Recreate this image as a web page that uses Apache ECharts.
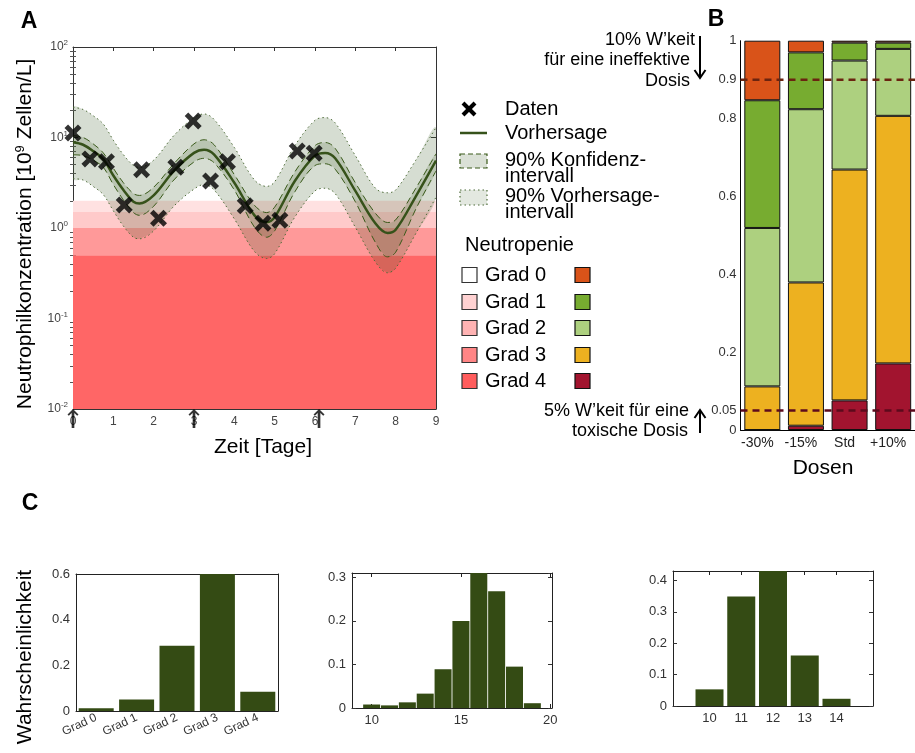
<!DOCTYPE html>
<html>
<head>
<meta charset="utf-8">
<title>Neutropenie</title>
<script src="https://cdn.jsdelivr.net/npm/echarts@6/dist/echarts.min.js"></script>
<style>
    html, body { margin: 0; padding: 0; background: #fff; }
    #main { width: 915px; height: 753px; }
</style>
</head>
<body>
<div id="main"></div>
<script>
// ---- Panel A: neutrophil time course ----
var days      = [0, 0.25, 0.5, 0.75, 1, 1.25, 1.5, 1.65, 2, 2.5, 3, 3.25, 3.5, 4, 4.5, 4.8, 5, 5.5, 6, 6.25, 6.5, 7, 7.5, 7.8, 8, 8.5, 9];
var median    = [8.85, 8.32, 7.08, 5.78, 3.80, 2.63, 1.95, 1.86, 2.29, 4.27, 6.76, 7.33, 6.46, 3.16, 1.38, 1.16, 1.32, 3.31, 6.31, 6.76, 5.89, 2.57, 1.12, 0.88, 0.955, 2.24, 5.55];
var ciUpper   = [10.5, 10.0, 8.5, 6.76, 4.57, 3.16, 2.40, 2.29, 2.82, 5.13, 8.5, 9.44, 8.3, 3.89, 1.78, 1.48, 1.70, 4.17, 8.13, 8.81, 7.59, 3.16, 1.45, 1.15, 1.23, 2.75, 6.61];
var ciLower   = [6.46, 6.3, 5.62, 4.68, 3.02, 2.04, 1.48, 1.38, 1.74, 3.39, 5.37, 5.89, 5.25, 2.63, 1.02, 0.79, 0.93, 2.51, 4.90, 5.13, 4.47, 1.95, 0.69, 0.48, 0.54, 1.62, 4.27];
var piUpper   = [21.6, 20.4, 17.4, 14.1, 9.33, 6.46, 4.90, 4.68, 5.62, 10.5, 16.6, 18.2, 15.8, 7.76, 3.39, 2.88, 3.24, 8.13, 15.5, 16.6, 14.5, 6.31, 2.75, 2.45, 2.63, 5.62, 12.9];
var piLower   = [3.51, 3.39, 2.88, 2.34, 1.55, 1.05, 0.79, 0.76, 0.93, 1.74, 2.69, 3.02, 2.63, 1.26, 0.55, 0.46, 0.52, 1.32, 2.57, 2.75, 2.40, 1.02, 0.42, 0.32, 0.36, 0.87, 2.19];
var obsDays   = [0, 0.42, 0.83, 1.27, 1.7, 2.12, 2.55, 2.98, 3.41, 3.83, 4.27, 4.71, 5.13, 5.56, 5.98];
var obsValues = [11.2, 5.8, 5.4, 1.8, 4.4, 1.28, 4.7, 15.2, 3.3, 5.4, 1.76, 1.13, 1.22, 7.1, 6.7];
var doseDays  = [0, 3, 6.1];
var bandLower = [0.01, 0.5, 1.0, 1.5];
var bandUpper = [0.5, 1.0, 1.5, 2.0];
var minorLogTicks = [0.02, 0.03, 0.04, 0.05, 0.06, 0.07, 0.08, 0.09,
                     0.2, 0.3, 0.4, 0.5, 0.6, 0.7, 0.8, 0.9,
                     2, 3, 4, 5, 6, 7, 8, 9,
                     20, 30, 40, 50, 60, 70, 80, 90];

// ---- Panel B: grade probabilities per dose ----
var doses  = ['-30%', '-15%', 'Std', '+10%'];
var grade0 = [0.153, 0.030, 0.005, 0.005];
var grade1 = [0.328, 0.146, 0.046, 0.016];
var grade2 = [0.407, 0.445, 0.280, 0.172];
var grade3 = [0.112, 0.368, 0.593, 0.636];
var grade4 = [0.000, 0.011, 0.076, 0.171];
var doseTicks = [0, 0.05, 0.2, 0.4, 0.6, 0.8, 0.9, 1];
var thresholds = [0.9, 0.05];

// ---- Panel C: distributions ----
var gradeNames   = ['Grad 0', 'Grad 1', 'Grad 2', 'Grad 3', 'Grad 4'];
var gradeProb    = [0.012, 0.05, 0.286, 0.6, 0.084];
var recoveryDays = [10, 11, 12, 13, 14, 15, 16, 17, 18, 19];
var recoveryProb = [0.008, 0.006, 0.013, 0.033, 0.089, 0.20, 0.312, 0.268, 0.095, 0.011];
var recoveryTicks = [10, 15, 20];
var nadirDays    = [10, 11, 12, 13, 14];
var nadirProb    = [0.053, 0.349, 0.435, 0.161, 0.023];

var FONT = "'Liberation Sans', Arial, sans-serif";
var DARK = '#344b14';
var LINE_GREEN = '#36521a';
var bandColors = ['#ff6666', '#ff9999', '#ffcaca', '#ffe1e1'];
var legendPink = ['#ffffff', '#ffd2d2', '#ffb3b3', '#ff8585', '#ff5c5c'];
var gradeColors = ['#d95319', '#77ac30', '#add07f', '#edb120', '#a2142f'];
var thresholdColors = ['#6b2410', '#5c0a1c'];

var chartDom = document.getElementById('main');
var myChart = echarts.init(chartDom, null, { renderer: 'canvas' });

function pairs(xs, ys) {
    return xs.map(function (x, i) { return [x, ys[i]]; });
}

function axisLine(c) {
    return { show: true, onZero: false, lineStyle: { color: c || '#333', width: 1 } };
}

function bandRenderer(upper, lower, color) {
    return function (params, api) {
        var pts = [];
        for (var i = 0; i < days.length; i++) pts.push(api.coord([days[i], upper[i]]));
        for (var j = days.length - 1; j >= 0; j--) pts.push(api.coord([days[j], lower[j]]));
        return { type: 'polygon', shape: { points: pts, smooth: 0.35 }, style: { fill: color }, silent: true };
    };
}

function lineSeries(data, color, width, type) {
    return {
        type: 'line', xAxisIndex: 0, yAxisIndex: 0, data: pairs(days, data),
        smooth: 0.35, showSymbol: false, symbol: 'none', silent: true,
        lineStyle: { color: color, width: width, type: type }
    };
}

var logLabel = {
    fontSize: 12, color: '#444', margin: 5,
    formatter: function (v) {
        var e = Math.round(Math.log(v) / Math.LN10);
        return '{b|10}{s|' + e + '}';
    },
    rich: {
        b: { fontSize: 12, color: '#444', fontFamily: FONT },
        s: { fontSize: 8, color: '#444', fontFamily: FONT, padding: [0, 0, 8, 0] }
    }
};

var xAxes = [
    // A
    { gridIndex: 0, type: 'value', min: 0, max: 9, interval: 1, position: 'bottom',
      axisLine: axisLine(), axisTick: { inside: true, length: 4, lineStyle: { color: '#333' } },
      axisLabel: { fontSize: 12, color: '#444', margin: 7 }, splitLine: { show: false } },
    { gridIndex: 0, type: 'value', min: 0, max: 9, interval: 1, position: 'top',
      axisLine: axisLine(), axisTick: { inside: true, length: 4, lineStyle: { color: '#333' } },
      axisLabel: { show: false }, splitLine: { show: false } },
    // B
    { gridIndex: 1, type: 'category', data: doses, position: 'bottom',
      axisLine: axisLine('#000'), axisTick: { show: false },
      axisLabel: { interval: 0, hideOverlap: false, fontSize: 14, color: '#222', margin: 6, padding: [0, 10, 0, 0] } },
    // C1
    { gridIndex: 2, type: 'category', data: gradeNames, position: 'bottom',
      axisLine: axisLine('#222'), axisTick: { show: false },
      axisLabel: { interval: 0, fontSize: 12, color: '#333', rotate: 25, margin: 6 } },
    { gridIndex: 2, type: 'category', data: gradeNames, position: 'top',
      axisLine: axisLine('#222'), axisTick: { show: false }, axisLabel: { show: false } },
    // C2
    { gridIndex: 3, type: 'value', min: 8.9, max: 20.1, position: 'bottom',
      axisLine: axisLine('#222'), axisTick: { inside: true, length: 4, customValues: recoveryTicks },
      axisLabel: { fontSize: 13, color: '#333', margin: 6, customValues: recoveryTicks }, splitLine: { show: false } },
    { gridIndex: 3, type: 'value', min: 8.9, max: 20.1, position: 'top',
      axisLine: axisLine('#222'), axisTick: { inside: true, length: 4, customValues: recoveryTicks },
      axisLabel: { show: false }, splitLine: { show: false } },
    // C3
    { gridIndex: 4, type: 'value', min: 8.85, max: 15.15, position: 'bottom',
      axisLine: axisLine('#222'), axisTick: { inside: true, length: 4, customValues: nadirDays },
      axisLabel: { fontSize: 13, color: '#333', margin: 6, customValues: nadirDays }, splitLine: { show: false } },
    { gridIndex: 4, type: 'value', min: 8.85, max: 15.15, position: 'top',
      axisLine: axisLine('#222'), axisTick: { inside: true, length: 4, customValues: nadirDays },
      axisLabel: { show: false }, splitLine: { show: false } }
];

function cY(grid, max, pos, labels) {
    return {
        gridIndex: grid, type: 'value', min: 0, max: max, interval: 0.1 * (max > 0.5 ? 2 : 1), position: pos,
        axisLine: axisLine('#222'), axisTick: { inside: true, length: 4, lineStyle: { color: '#333' } },
        axisLabel: labels ? { fontSize: 13, color: '#333', margin: 6 } : { show: false },
        splitLine: { show: false }
    };
}

var yAxes = [
    // A major
    { gridIndex: 0, type: 'log', logBase: 10, min: 0.01, max: 100, position: 'left',
      axisLine: axisLine(), axisTick: { inside: true, length: 5, lineStyle: { color: '#333' } },
      axisLabel: logLabel, splitLine: { show: false } },
    { gridIndex: 0, type: 'log', logBase: 10, min: 0.01, max: 100, position: 'right',
      axisLine: axisLine(), axisTick: { inside: true, length: 5, lineStyle: { color: '#333' } },
      axisLabel: { show: false }, splitLine: { show: false } },
    // A minor
    { gridIndex: 0, type: 'log', logBase: 10, min: 0.01, max: 100, position: 'left',
      axisLine: { show: false }, axisTick: { inside: true, length: 3, customValues: minorLogTicks, lineStyle: { color: '#555' } },
      axisLabel: { show: false }, splitLine: { show: false } },
    { gridIndex: 0, type: 'log', logBase: 10, min: 0.01, max: 100, position: 'right',
      axisLine: { show: false }, axisTick: { inside: true, length: 3, customValues: minorLogTicks, lineStyle: { color: '#555' } },
      axisLabel: { show: false }, splitLine: { show: false } },
    // B
    { gridIndex: 1, type: 'value', min: 0, max: 1, position: 'left',
      axisLine: axisLine('#000'), axisTick: { show: false },
      axisLabel: { fontSize: 13, color: '#333', margin: 4, customValues: doseTicks }, splitLine: { show: false } },
    // C
    cY(2, 0.6, 'left', true), cY(2, 0.6, 'right', false),
    cY(3, 0.31, 'left', true), cY(3, 0.31, 'right', false),
    cY(4, 0.43, 'left', true), cY(4, 0.43, 'right', false)
];

var crossPath = 'path://M0,2.5 L2.5,0 L6,3.5 L9.5,0 L12,2.5 L8.5,6 L12,9.5 L9.5,12 L6,8.5 L2.5,12 L0,9.5 L3.5,6 Z';
var arrowPath = 'path://M5,0 L10,5.5 L8.8,6.8 L6.2,3.9 L6.2,19 L3.8,19 L3.8,3.9 L1.2,6.8 L0,5.5 Z';

var series = [
    // A background grade bands
    { type: 'custom', xAxisIndex: 0, yAxisIndex: 0, clip: true, silent: true,
      data: bandLower.map(function (lo, i) { return [0, lo, bandUpper[i]]; }),
      renderItem: function (params, api) {
          var cs = params.coordSys;
          var yTop = api.coord([0, api.value(2)])[1];
          var yBot = api.coord([0, api.value(1)])[1];
          return { type: 'rect', shape: { x: cs.x, y: yTop, width: cs.width, height: yBot - yTop },
                   style: { fill: bandColors[params.dataIndex] } };
      } },
    { type: 'custom', xAxisIndex: 0, yAxisIndex: 0, clip: true, data: [[0, 1]],
      renderItem: bandRenderer(piUpper, piLower, 'rgba(70,100,50,0.22)') },
    { type: 'custom', xAxisIndex: 0, yAxisIndex: 0, clip: true, data: [[0, 1]],
      renderItem: bandRenderer(ciUpper, ciLower, 'rgba(70,100,50,0.2)') },
    lineSeries(piUpper, '#4d6b38', 1, [1.5, 3]),
    lineSeries(piLower, '#4d6b38', 1, [1.5, 3]),
    lineSeries(ciUpper, '#3a5a1a', 1, [7, 4]),
    lineSeries(ciLower, '#3a5a1a', 1, [7, 4]),
    lineSeries(median, LINE_GREEN, 2.5, 'solid'),
    { type: 'scatter', xAxisIndex: 0, yAxisIndex: 0, data: pairs(obsDays, obsValues),
      symbol: crossPath, symbolSize: 17, itemStyle: { color: '#000' }, z: 5 },
    { type: 'scatter', xAxisIndex: 0, yAxisIndex: 0, clip: false,
      data: doseDays.map(function (d) { return [d, 0.01]; }),
      symbol: arrowPath, symbolSize: [11, 19], symbolOffset: [0, '50%'], itemStyle: { color: '#000' }, z: 6 }
];

// B stacked bars, bottom to top: grade 4 .. grade 0
[grade4, grade3, grade2, grade1, grade0].forEach(function (vals, k) {
    series.push({
        type: 'bar', xAxisIndex: 2, yAxisIndex: 4, stack: 'dose', data: vals, barWidth: 36,
        itemStyle: { color: gradeColors[4 - k], borderColor: '#111', borderWidth: 1 }
    });
});
series.push({
    type: 'custom', xAxisIndex: 2, yAxisIndex: 4, z: 10, silent: true,
    data: thresholds.map(function (t) { return [0, t]; }),
    renderItem: function (params, api) {
        var cs = params.coordSys;
        var y = api.coord([0, api.value(1)])[1];
        return { type: 'line', shape: { x1: cs.x, y1: y, x2: cs.x + cs.width, y2: y },
                 style: { stroke: thresholdColors[params.dataIndex], lineWidth: 2.5, lineDash: [7, 5] } };
    }
});

// C bars
series.push({ type: 'bar', xAxisIndex: 3, yAxisIndex: 5, data: gradeProb, barWidth: 35,
              itemStyle: { color: DARK } });
series.push({ type: 'bar', xAxisIndex: 5, yAxisIndex: 7, data: pairs(recoveryDays, recoveryProb), barWidth: 17,
              itemStyle: { color: DARK } });
series.push({ type: 'bar', xAxisIndex: 7, yAxisIndex: 9, data: pairs(nadirDays, nadirProb), barWidth: 28,
              itemStyle: { color: DARK } });

function txt(text, x, y, size, opts) {
    opts = opts || {};
    return {
        type: 'text', x: x, y: y, rotation: opts.rotation || 0, silent: true,
        style: { text: text, x: 0, y: 0, fill: opts.color || '#000',
                 font: (opts.bold ? 'bold ' : '') + size + 'px ' + FONT,
                 textAlign: opts.align || 'left', textVerticalAlign: 'middle', verticalAlign: 'middle' }
    };
}

function sq(x, y, fill, stroke) {
    return { type: 'rect', shape: { x: x, y: y - 7.5, width: 15, height: 15 }, silent: true,
             style: { fill: fill, stroke: stroke, lineWidth: 1.2 } };
}

var graphics = [
    txt('A', 29, 22, 23, { bold: true, align: 'center' }),
    txt('B', 716, 20, 23, { bold: true, align: 'center' }),
    txt('C', 30, 504, 23, { bold: true, align: 'center' }),
    // axis titles
    { type: 'text', x: 25, y: 234, rotation: Math.PI / 2, silent: true,
      style: { text: '{t|Neutrophilkonzentration [10}{s|9}{t| Zellen/L]}', x: 0, y: 0,
               textAlign: 'center', textVerticalAlign: 'middle', verticalAlign: 'middle',
               rich: { t: { fontSize: 21, fontFamily: FONT, fill: '#000', color: '#000' },
                       s: { fontSize: 13, fontFamily: FONT, fill: '#000', color: '#000', padding: [0, 0, 10, 0] } } } },
    txt('Zeit [Tage]', 263, 447, 21, { align: 'center' }),
    txt('Dosen', 823, 468, 21, { align: 'center' }),
    txt('Wahrscheinlichkeit', 25, 657, 21, { align: 'center', rotation: Math.PI / 2 }),
    // legend A
    { type: 'line', shape: { x1: 463, y1: 103, x2: 475, y2: 115 }, style: { stroke: '#000', lineWidth: 4 } },
    { type: 'line', shape: { x1: 463, y1: 115, x2: 475, y2: 103 }, style: { stroke: '#000', lineWidth: 4 } },
    txt('Daten', 505, 109, 20),
    { type: 'line', shape: { x1: 460, y1: 133, x2: 487, y2: 133 }, style: { stroke: LINE_GREEN, lineWidth: 2.5 } },
    txt('Vorhersage', 505, 133, 20),
    { type: 'rect', shape: { x: 460, y: 154, width: 27, height: 14 },
      style: { fill: 'rgba(70,100,50,0.2)', stroke: '#3a5a1a', lineWidth: 1.2, lineDash: [5, 3] } },
    txt('90% Konfidenz-', 505, 160, 20),
    txt('intervall', 505, 176, 20),
    { type: 'rect', shape: { x: 460, y: 190, width: 27, height: 15 },
      style: { fill: 'rgba(70,100,50,0.15)', stroke: '#4d6b38', lineWidth: 1.2, lineDash: [1.5, 3] } },
    txt('90% Vorhersage-', 505, 196, 20),
    txt('intervall', 505, 212, 20),
    txt('Neutropenie', 465, 245, 20),
    // annotations B
    txt("10% W\u2019keit", 695, 40, 18, { align: 'right' }),
    txt('f\u00fcr eine ineffektive', 690, 60, 18, { align: 'right' }),
    txt('Dosis', 690, 81, 18, { align: 'right' }),
    { type: 'line', shape: { x1: 700, y1: 36, x2: 700, y2: 77 }, style: { stroke: '#000', lineWidth: 2 } },
    { type: 'polyline', shape: { points: [[694.5, 70], [700, 78], [705.5, 70]] }, style: { stroke: '#000', lineWidth: 2, fill: null } },
    txt("5% W\u2019keit f\u00fcr eine", 689, 411, 18, { align: 'right' }),
    txt('toxische Dosis', 688, 431, 18, { align: 'right' }),
    { type: 'line', shape: { x1: 700, y1: 433, x2: 700, y2: 411 }, style: { stroke: '#000', lineWidth: 2 } },
    { type: 'polyline', shape: { points: [[694.5, 418], [700, 410], [705.5, 418]] }, style: { stroke: '#000', lineWidth: 2, fill: null } }
];

var rowY = [275, 302, 328, 355, 381];
rowY.forEach(function (y, i) {
    graphics.push(sq(462, y, legendPink[i], '#333'));
    graphics.push(txt('Grad ' + i, 485, y, 20));
    graphics.push(sq(575, y, gradeColors[i], '#111'));
});

var option = {
    animation: false,
    textStyle: { fontFamily: FONT },
    grid: [
        { left: 73, top: 47, width: 363, height: 362 },
        { left: 740.5, top: 40.7, width: 181.2, height: 389.3 },
        { left: 76, top: 574, width: 202, height: 137 },
        { left: 352, top: 573, width: 200, height: 135 },
        { left: 673, top: 571, width: 200, height: 135 }
    ],
    xAxis: xAxes,
    yAxis: yAxes,
    series: series,
    graphic: { elements: graphics }
};

option && myChart.setOption(option, true);
</script>
</body>
</html>
